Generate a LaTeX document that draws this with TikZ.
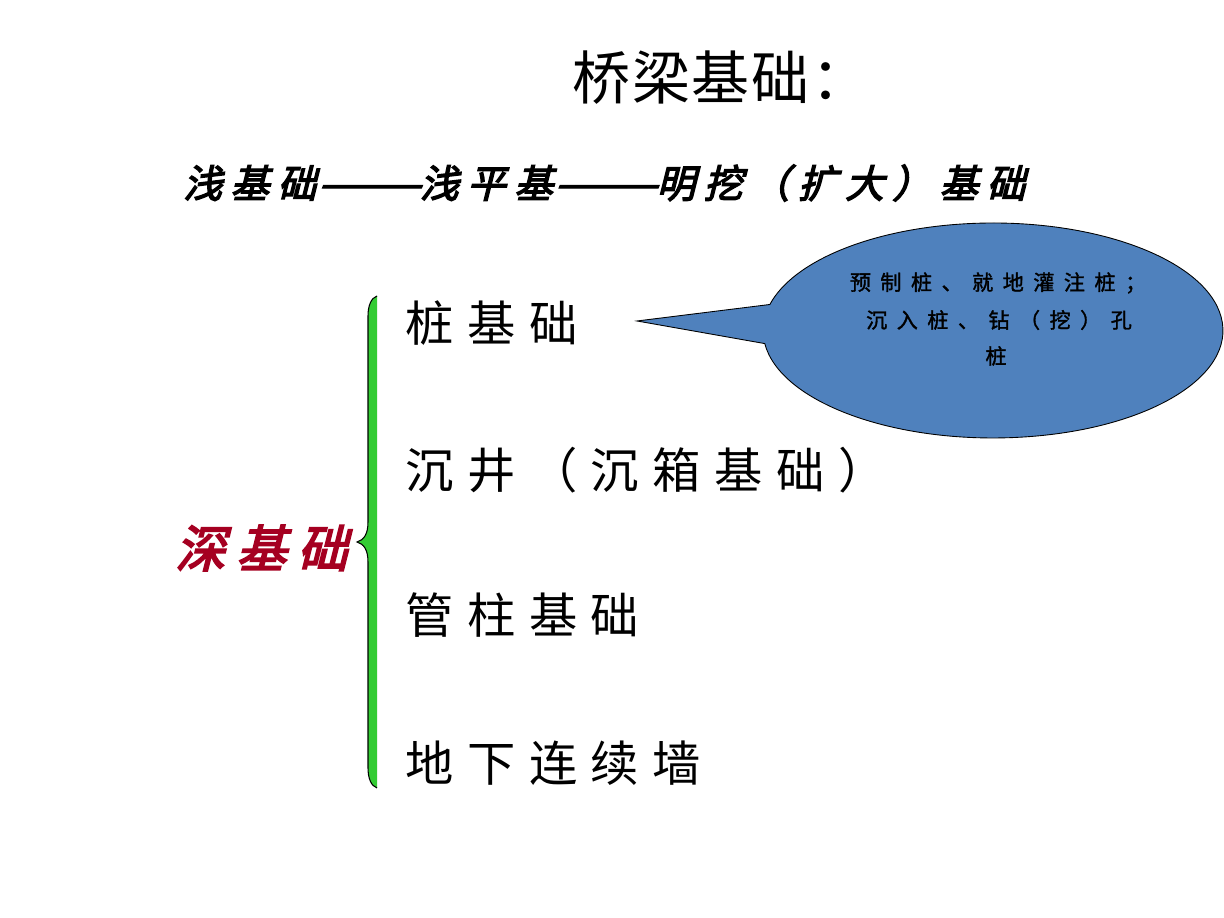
\documentclass[tikz,border=0pt]{standalone}
\usepackage{fontspec}
\usepackage{graphicx}
\usetikzlibrary{calc}
\newfontfamily\cjk[LetterSpace=3]{Noto Sans CJK SC}
\newfontfamily\cjkitem[LetterSpace=28]{Noto Sans CJK SC}
\newfontfamily\cjkbi[FakeSlant=0.25,FakeBold=3.5,LetterSpace=22]{Noto Sans CJK SC}
\newfontfamily\cjksmall[LetterSpace=45,FakeBold=1.5]{Noto Sans CJK SC}
\newcommand\longdash{\scalebox{1.6}[1]{——}}
\definecolor{deepred}{HTML}{A50021}
\definecolor{bracegreen}{HTML}{33CC33}
\definecolor{calloutblue}{HTML}{4F81BD}
\begin{document}
\begin{tikzpicture}[x=0.02cm,y=0.02cm,
  txt/.style={inner sep=0pt,anchor=west},
  itemtxt/.style={txt,font=\cjkitem\fontsize{27.5}{32}\selectfont},
  smalltxt/.style={inner sep=0pt,anchor=center,font=\cjksmall\fontsize{12}{14}\selectfont}]
\useasboundingbox (0,0) rectangle (1224,918);
\fill[white] (0,0) rectangle (1224,918);
% title
\node[txt,font=\cjk\fontsize{33}{38}\selectfont] (title) at (572,840) {桥梁基础：};
% shallow foundations line
\node[txt,font=\cjkbi\fontsize{22}{26}\selectfont] (shallow) at (183,735) {浅基础\longdash 浅平基\longdash 明挖（扩大）基础};
% deep foundation label
\node[txt,text=deepred,font=\cjkbi\fontsize{28.5}{33}\selectfont] (deep) at (175,370) {深基础};
% brace
\fill[bracegreen] (377,622) -- (377,130) .. controls (371,132) and (368,140) .. (368,150)
  -- (368,356) .. controls (368,368) and (364,374) .. (357,376)
  .. controls (364,378) and (368,384) .. (368,396)
  -- (368,602) .. controls (368,612) and (371,620) .. (377,622) -- cycle;
\draw[black,line width=0.6pt] (377,130) .. controls (371,132) and (368,140) .. (368,150)
  -- (368,356) .. controls (368,368) and (364,374) .. (357,376)
  .. controls (364,378) and (368,384) .. (368,396)
  -- (368,602) .. controls (368,612) and (371,620) .. (377,622);
% items
\node[itemtxt] (pile) at (405,595) {桩基础};
\node[itemtxt] (caisson) at (405,448) {沉井（沉箱基础）};
\node[itemtxt] (tube) at (405,303) {管柱基础};
\node[itemtxt] (wall) at (405,155) {地下连续墙};
% callout
\coordinate (tip) at (637,597);
\coordinate (cc) at (993,587.5);
\filldraw[fill=calloutblue,draw=black,line width=0.5pt]
  (tip) -- ($(cc)+(187:4.6cm and 2.15cm)$)
  arc[start angle=187,end angle=526,x radius=4.6cm,y radius=2.15cm] -- cycle;
\node[smalltxt] (c1) at (998,635) {预制桩、就地灌注桩；};
\node[smalltxt] (c2) at (999,598) {沉入桩、钻（挖）孔};
\node[smalltxt] (c3) at (996,562) {桩};
\end{tikzpicture}
\end{document}
